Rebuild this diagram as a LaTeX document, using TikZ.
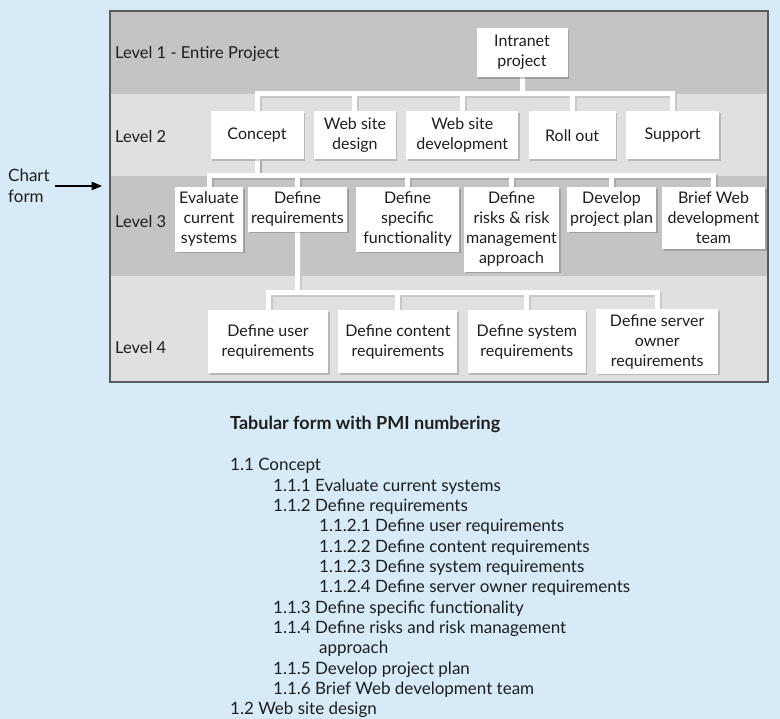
\documentclass[tikz,border=0pt]{standalone}
\usepackage{fontspec}
\setmainfont{Lato}
\usepackage{tikz}
\usetikzlibrary{arrows,positioning,shadows}

\definecolor{pagebg}{RGB}{214,234,248}
\definecolor{banddark}{RGB}{196,196,196}
\definecolor{bandlight}{RGB}{224,224,224}
\definecolor{shadelight}{RGB}{200,200,200}
\definecolor{shadedark}{RGB}{170,170,170}
\definecolor{ink}{RGB}{30,30,30}
\definecolor{framegray}{RGB}{90,90,90}

\pgfdeclarelayer{back}
\pgfsetlayers{back,main}

\begin{document}
\begin{tikzpicture}[x=1pt,y=-1pt,>=triangle 45,node distance=10pt,
    box/.style={fill=white,align=center,inner xsep=2pt,inner ysep=5pt,
                font=\fontsize{16}{20}\selectfont,text=ink,anchor=north,
                drop shadow={shadow xshift=1.5pt,shadow yshift=-1.5pt,fill=black,opacity=.18}},
    lvl/.style={anchor=west,inner sep=0pt,font=\fontsize{16.5}{20}\selectfont,text=ink},
    row/.style={anchor=base west,inner sep=0pt,font=\fontsize{17}{20}\selectfont,text=ink},
    link/.style={to path={(\tikztostart.south) |- ([yshift=#1]\tikztotarget.north) -- (\tikztotarget.north)}},
    link/.default=17pt]

  \useasboundingbox (0,0) rectangle (780,719);

  % level bands
  \begin{pgfonlayer}{back}
    \fill[pagebg] (0,0) rectangle (780,719);
    \foreach \ya/\yb/\c in {11/94/banddark,94/176/bandlight,176/276/banddark,276/382/bandlight}
      \fill[fill=\c] (110,\ya) rectangle (768,\yb);
    \draw[framegray,line width=1.2pt] (110,11) rectangle (768,382);
  \end{pgfonlayer}

  \node[lvl] (l1) at (115,54)  {Level 1 - Entire Project};
  \node[lvl] (l2) at (115,136) {Level 2};
  \node[lvl] (l3) at (115,221) {Level 3};
  \node[lvl] (l4) at (115,347) {Level 4};

  % level 1 and 2
  \node[box,minimum width=91pt,minimum height=49pt] (1) at (522,28) {Intranet\\project};
  \node[box,minimum width=93pt,minimum height=48pt] (11) at (257,111) {Concept};
  \node[box,minimum width=82pt,minimum height=48pt,right=of 11] (12) {Web site\\design};
  \node[box,minimum width=112pt,minimum height=48pt,right=of 12] (13) {Web site\\development};
  \node[box,minimum width=87pt,minimum height=48pt,right=of 13] (14) {Roll out};
  \node[box,minimum width=93pt,minimum height=48pt,right=of 14] (15) {Support};

  % level 3
  \node[box,minimum width=68pt]  (111) at (209,187)   {Evaluate\\current\\systems};
  \node[box,minimum width=99pt]  (112) at (297.5,187) {Define\\requirements};
  \node[box,minimum width=103pt] (113) at (407.5,187) {Define\\specific\\functionality};
  \node[box,minimum width=95pt]  (114) at (511.5,187) {Define\\risks \& risk\\management\\approach};
  \node[box,minimum width=89pt]  (115) at (611.5,187) {Develop\\project plan};
  \node[box,minimum width=103pt] (116) at (713.5,187) {Brief Web\\development\\team};

  % level 4
  \node[box,minimum width=120pt,minimum height=63pt] (1121) at (268,310) {Define user\\requirements};
  \node[box,minimum width=119pt,minimum height=63pt,right=of 1121] (1122) {Define content\\requirements};
  \node[box,minimum width=118pt,minimum height=63pt,right=of 1122] (1123) {Define system\\requirements};
  \node[box,minimum width=122pt,minimum height=63pt,right=of 1123] (1124) {Define server\\owner\\requirements};

  % white connectors with their shadow
  \begin{pgfonlayer}{back}
    \foreach \sh/\ca/\cb in {2pt/shadelight/shadedark,0pt/white/white}{
      \begin{scope}[transform canvas={shift={(\sh,-\sh)}},line width=5pt]
        \path[draw=\ca] (1) edge[link] (11) edge[link] (12) edge[link] (13)
                            edge[link] (14) edge[link] (15);
        \path[draw=\cb] (11) edge[link=11pt] (111) edge[link=11pt] (112)
                             edge[link=11pt] (113) edge[link=11pt] (114)
                             edge[link=11pt] (115) edge[link=11pt] (116);
        \path[draw=\ca] (112) edge[link] (1121) edge[link] (1122)
                              edge[link] (1123) edge[link] (1124);
      \end{scope}}
  \end{pgfonlayer}

  % chart form pointer
  \node[anchor=west,align=left,inner sep=0pt,font=\fontsize{17}{21}\selectfont,text=ink] (chart) at (8,186) {Chart\\form};
  \coordinate (frameedge) at (102,186);
  \draw[->,line width=1.4pt] ([xshift=5pt]chart.east) -- (frameedge);

  % tabular form
  \node[row,font=\fontsize{18}{20}\selectfont\bfseries] (title) at (230,430) {Tabular form with PMI numbering};
  \foreach \x/\txt [count=\n] in {230/1.1 Concept,273/1.1.1 Evaluate current systems,
      273/1.1.2 Define requirements,319/1.1.2.1 Define user requirements,
      319/1.1.2.2 Define content requirements,319/1.1.2.3 Define system requirements,
      319/1.1.2.4 Define server owner requirements,273/1.1.3 Define specific functionality,
      273/1.1.4 Define risks and risk management,319/approach,
      273/1.1.5 Develop project plan,273/1.1.6 Brief Web development team,
      230/1.2 Web site design}
    \node[row] (row\n) at (\x,450.35+20.35*\n) {\txt};
\end{tikzpicture}
\end{document}
